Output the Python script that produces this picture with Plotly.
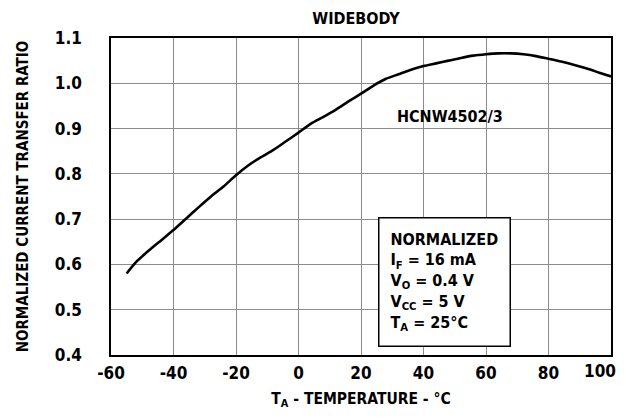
import plotly.graph_objects as go

temperature_c = [-55, -52, -48, -44, -40, -36, -32, -28, -24, -20, -16, -12, -8, -4, 0, 4, 8, 12, 16, 20,
                 24, 28, 32, 36, 40, 44, 48, 52, 56, 60, 64, 68, 72, 76, 80, 84, 88, 92, 96, 100]
ctr_normalized = [0.580, 0.605, 0.630, 0.653, 0.676, 0.701, 0.726, 0.750, 0.772, 0.797, 0.819, 0.837, 0.853,
                  0.872, 0.891, 0.911, 0.926, 0.942, 0.960, 0.977, 0.995, 1.010, 1.020, 1.030, 1.038, 1.044,
                  1.050, 1.056, 1.061, 1.064, 1.066, 1.066, 1.064, 1.060, 1.054, 1.048, 1.041, 1.033, 1.024, 1.015]

x_ticks = [-60, -40, -20, 0, 20, 40, 60, 80, 100]
x_tick_text = ["-60", "-40", "-20", "0", "20", "40", "60", "80", ""]
last_x_label = "100"
y_ticks = [0.4, 0.5, 0.6, 0.7, 0.8, 0.9, 1.0, 1.1]
y_tick_text = ["0.4", "0.5", "0.6", "0.7", "0.8", "0.9", "1.0", "1.1"]

FONT = "DejaVu Sans Condensed, Roboto, sans-serif"

fig = go.Figure()
fig.add_trace(go.Scatter(x=temperature_c, y=ctr_normalized, mode="lines",
                         line=dict(color="black", width=2.6, shape="spline", smoothing=0.6),
                         showlegend=False, hoverinfo="skip"))

fig.add_annotation(x=48.6, y=0.926, xref="x", yref="y", text="<b>HCNW4502/3</b>", showarrow=False,
                   font=dict(family=FONT, size=16, color="black", weight="bold"))

# last x tick label, pulled inside the figure like in the reference
fig.add_annotation(x=x_ticks[-1], xref="x", y=0, yref="paper", xanchor="right", yanchor="top",
                   xshift=7, yshift=-4, text="<b>" + last_x_label + "</b>", showarrow=False,
                   font=dict(family=FONT, size=17, color="black", weight="bold"))

box_text = ("<b>NORMALIZED<br>I<sub>F</sub> = 16 mA<br>V<sub>O</sub> = 0.4 V<br>"
            "V<sub>CC</sub> = 5 V<br>T<sub>A</sub> = 25°C</b>")
fig.add_annotation(x=25.4, y=0.705, xref="x", yref="y", xanchor="left", yanchor="top",
                   text=box_text, showarrow=False, align="left",
                   font=dict(family=FONT, size=16, color="black", weight="bold"),
                   bgcolor="white", bordercolor="black", borderwidth=1.5, borderpad=11)

fig.update_layout(
    width=628, height=418,
    margin=dict(l=103, r=25, t=30, b=71, autoexpand=False),
    paper_bgcolor="white", plot_bgcolor="white",
    font=dict(family=FONT, color="black"),
    title=dict(text="<b>WIDEBODY</b>", x=0.49, xref="paper", y=0.976, yref="container",
               xanchor="center", yanchor="middle", font=dict(family=FONT, size=16, color="black")),
)
fig.update_xaxes(range=[-60, 100], tickvals=x_ticks, ticktext=x_tick_text, ticks="", ticklabelstandoff=2,
                 tickfont=dict(family=FONT, size=17, color="black", weight="bold"), automargin=False,
                 showgrid=True, gridcolor="#8c8c8c", gridwidth=1, zeroline=False,
                 showline=True, linecolor="black", linewidth=1.5, mirror=True,
                 title=dict(text="<b>T<sub>A</sub> - TEMPERATURE - °C</b>", standoff=11,
                            font=dict(family=FONT, size=15.5, color="black")))
fig.update_yaxes(range=[0.4, 1.1], tickvals=y_ticks, ticktext=y_tick_text, ticks="", ticklabelstandoff=24,
                 tickfont=dict(family=FONT, size=17, color="black", weight="bold"), automargin=False,
                 showgrid=True, gridcolor="#8c8c8c", gridwidth=1, zeroline=False,
                 showline=True, linecolor="black", linewidth=1.5, mirror=True,
                 title=dict(text="<b>NORMALIZED CURRENT TRANSFER RATIO</b>", standoff=23,
                            font=dict(family=FONT, size=15, color="black")))

fig.write_html("out.html")
